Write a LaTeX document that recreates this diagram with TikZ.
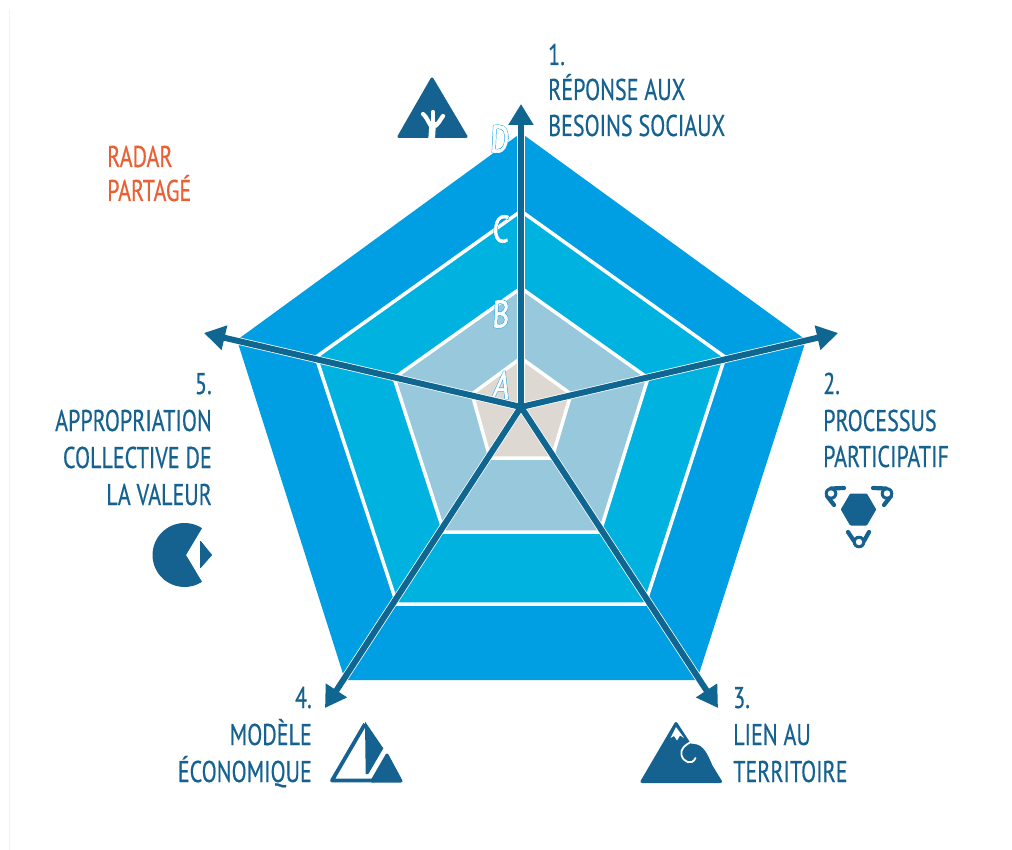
\documentclass[tikz,border=0pt]{standalone}
\usepackage{fontspec}
\setmainfont[FakeStretch=0.735,FakeBold=0.45]{PT Sans}
\newfontfamily\letterfont[FakeStretch=0.75,FakeBold=1.6]{PT Sans}
\newfontfamily\letterbold[FakeStretch=0.75,FakeBold=4]{PT Sans}
\usetikzlibrary{arrows.meta}
\definecolor{darkblue}{HTML}{15618F}
\definecolor{axisblue}{HTML}{0F6690}
\definecolor{ringD}{HTML}{009EE3}
\definecolor{ringC}{HTML}{00B2E0}
\definecolor{ringB}{HTML}{98C8DC}
\definecolor{ringA}{HTML}{DDD8D2}
\definecolor{radarorange}{HTML}{EA6034}
\definecolor{marginline}{HTML}{F2F2F2}
\tikzset{
  lbl/.style={font=\fontsize{30}{30}\selectfont, text=darkblue, inner sep=0pt},
  lblL/.style={lbl, anchor=base west},
  lblR/.style={lbl, anchor=base east},
  orangelbl/.style={font=\fontsize{30}{30}\selectfont, text=radarorange, inner sep=0pt, anchor=base west},
  ringedge/.style={draw=white, line width=3.5pt, line join=miter},
  axisunder/.style={draw=white, line width=7.5pt},
  axisline/.style={draw=axisblue, line width=6pt, -{Triangle[length=21pt,width=24pt]}},
  lettermark/.style={inner sep=0pt, font=\fontsize{38}{38}\selectfont, xslant=0.05, transform shape},
  iconfill/.style={fill=darkblue, draw=darkblue, line join=round, line width=3pt},
  iconline/.style={draw=darkblue, line width=4.2pt, line cap=round, line join=round},
  treeline/.style={draw=white, line width=4.2pt, line cap=round},
}
\newcommand{\ltr}[1]{\rlap{\letterbold\color{ringD}#1}\textcolor{white}{\letterfont #1}}
\begin{document}
\begin{tikzpicture}[x=1pt,y=-1pt]
\useasboundingbox (0,0) rectangle (1012,850);
\fill[white] (0,0) rectangle (1012,850);
\draw[marginline, line width=1.5pt] (9.5,10) -- (9.5,850);
% rings
\fill[ringD] (521,133) -- (806,340) -- (697,680) -- (345,680) -- (237,340) -- cycle;
\path[ringedge, fill=ringC] (521,211) -- (725,357) -- (645,604) -- (397,604) -- (316,357) -- cycle;
\path[ringedge, fill=ringB] (521,288) -- (648,378) -- (600,532) -- (444,532) -- (394,378) -- cycle;
\path[ringedge, fill=ringA] (521,358) -- (571,394) -- (552,458) -- (490,458) -- (472,394) -- cycle;
% letters
\node[lettermark] (lD) at (500,139) {\ltr{D}};
\node[lettermark] (lC) at (501,229) {\ltr{C}};
\node[lettermark] (lB) at (501,314) {\ltr{B}};
\node[lettermark, xslant=0.12] (lA) at (502,385) {\ltr{A}};
% axes
\coordinate (o) at (521,407);
\coordinate (t1) at (521,104);
\coordinate (t2) at (838,333);
\coordinate (t3) at (718,708);
\coordinate (t4) at (325,708);
\coordinate (t5) at (204,333);
\foreach \t in {t1,t2,t3,t4,t5} \draw[axisunder] (o) -- (\t);
\foreach \t in {t1,t2,t3,t4,t5} \draw[axisline] (o) -- (\t);
% labels
\node[lblL] (n1) at (548,65) {1.};
\node[lblL] (n1a) at (548,100) {RÉPONSE AUX};
\node[lblL] (n1b) at (548,136) {BESOINS SOCIAUX};
\node[lblL] (n2) at (823,394) {2.};
\node[lblL] (n2a) at (823,431) {PROCESSUS};
\node[lblL] (n2b) at (823,467) {PARTICIPATIF};
\node[lblL] (n3) at (733,708) {3.};
\node[lblL] (n3a) at (733,745) {LIEN AU};
\node[lblL] (n3b) at (733,782) {TERRITOIRE};
\node[lblR] (n4) at (312,708) {4.};
\node[lblR] (n4a) at (312,745) {MODÈLE};
\node[lblR] (n4b) at (312,782) {ÉCONOMIQUE};
\node[lblR] (n5) at (212,394) {5.};
\node[lblR] (n5a) at (212,431) {APPROPRIATION};
\node[lblR] (n5b) at (212,468) {COLLECTIVE DE};
\node[lblR] (n5c) at (212,505) {LA VALEUR};
\node[orangelbl] (r1) at (107,167) {RADAR};
\node[orangelbl] (r2) at (107,201) {PARTAGÉ};
% icon 1: triangle with tree
\path[iconfill] (432,79) -- (399,136.5) -- (466,136.5) -- cycle;
\fill[white] (428.3,139) -- (429.5,122) -- (436,122) -- (435,139) -- cycle;
\draw[treeline] (431,126) .. controls (428,122) and (427,117) .. (423,114);
\draw[treeline] (433,124) -- (433,112);
\draw[treeline] (433.5,127) .. controls (438,125) and (440,120) .. (443,116);
% icon 2: hexagon and three satellites
\path[iconfill] (842.5,509.5) -- (851,495) -- (866,495) -- (874.5,509.5) -- (866,524) -- (851,524) -- cycle;
\draw[iconline] (844,488) -- (831,488.5);
\draw[iconline] (827,496) -- (834,505);
\draw[iconline] (873,488) -- (886,488.5);
\draw[iconline] (891,496) -- (884,505);
\draw[iconline] (848,532) -- (854,541);
\draw[iconline] (869,532) -- (864,541);
\fill[darkblue] (831,493.5) circle (6.3) (887,493.5) circle (6.3) (859,542) circle (6.3);
\fill[white] (831,493.5) circle (3.2) (887,493.5) circle (3.2) (859,542) circle (3.2);
% icon 3: mountain
\path[iconfill] (676,723.5) -- (642,781.5) -- (720.5,781.5) -- (711,766) .. controls (706,754) and (702,746) .. (694,745.5) -- (690,745) -- cycle;
\fill[white] (676,727) -- (670.5,738) -- (674,736) -- (677,740.5) -- (680,735.5) -- (684,738) -- cycle;
\draw[white, line width=1.8pt, line cap=round] (693,741) .. controls (684,745) and (680,750) .. (681.5,755) .. controls (683,762) and (692,766) .. (695.5,758);
% icon 4: half mountain
\draw[iconline, line width=3.8pt, line cap=butt] (365,724) -- (332,780.5) -- (374,780.5);
\fill[darkblue] (365,721.5) -- (383.3,748.3) -- (368.3,774) -- (365.7,774) -- cycle;
\path[iconfill] (387,755) -- (372,781) -- (401,781) -- cycle;
% icon 5: pacman and small triangle
\fill[darkblue] (186,555) -- (202,528.2) arc[start angle=-56.9,end angle=-303.1,radius=32] -- cycle;
\path[iconfill, line width=1pt] (200.5,541.5) -- (211.5,555) -- (200.5,567.5) -- cycle;
\end{tikzpicture}
\end{document}
